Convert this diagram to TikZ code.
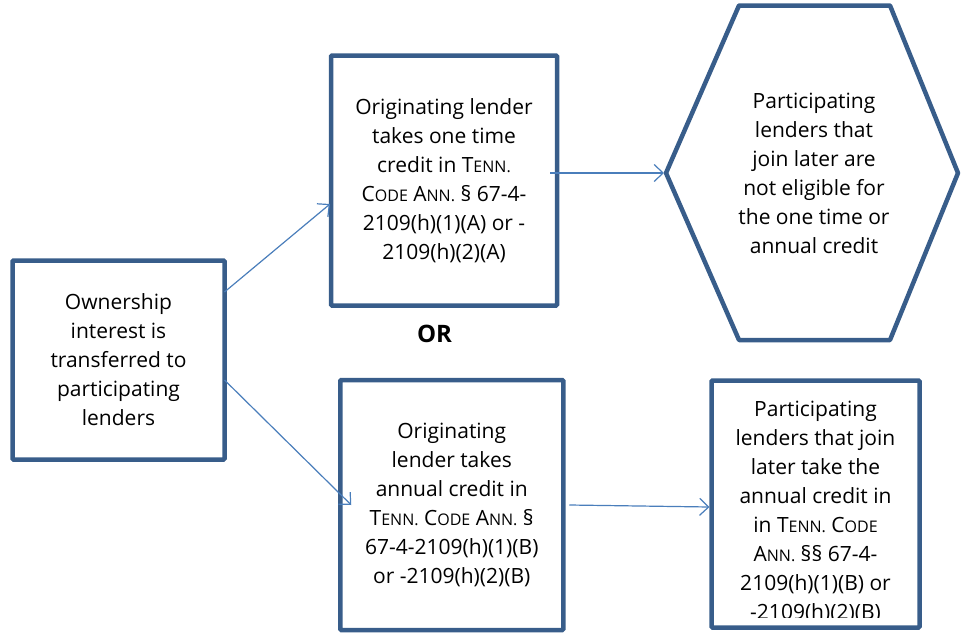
\documentclass[tikz,border=0pt]{standalone}
\usepackage{fontspec}
\setmainfont{Open Sans}
\usetikzlibrary{arrows.meta}
\definecolor{boxblue}{HTML}{385D8A}
\definecolor{arrowblue}{HTML}{4A7EBB}
\newcommand{\tsc}[1]{{\fontsize{16}{16}\selectfont #1}}

\begin{document}
\begin{tikzpicture}[x=1pt, y=-1pt,
    box/.style={draw=boxblue, line width=4.5pt, rounded corners=1pt, outer sep=0pt, inner sep=0pt, align=center, font=\fontsize{21}{29}\selectfont},
    txt/.style={align=center, inner sep=0pt, font=\fontsize{21}{29}\selectfont},
    link/.style={draw=arrowblue, line width=1.2pt, -{Straight Barb[length=9pt,width=17pt]}}]
	\useasboundingbox (0,0) rectangle (961,632);
	% boxes
	\node[box, minimum width=212pt, minimum height=199pt] (own) at (118.5,360)
		{Ownership\\interest is\\transferred to\\participating\\lenders};
	\node[box, minimum width=226pt, minimum height=250pt] (once) at (444,180.5)
		{Originating lender\\takes one time\\credit in T\tsc{ENN.}\\C\tsc{ODE} A\tsc{NN.} \S{} 67-4-\\2109(h)(1)(A) or -\\2109(h)(2)(A)};
	\node[box, minimum width=223pt, minimum height=250pt] (annual) at (451.75,505)
		{Originating\\lender takes\\annual credit in\\T\tsc{ENN.} C\tsc{ODE} A\tsc{NN.} \S\\67-4-2109(h)(1)(B)\\or -2109(h)(2)(B)};
	\node[box, minimum width=208pt, minimum height=247pt] (later) at (815.5,504) {};
	\begin{scope}
		\clip (713,383) rectangle (918,617);
		\node[txt] (latertxt) at (815.5,512)
			{Participating\\lenders that join\\later take the\\annual credit in\\in T\tsc{ENN.} C\tsc{ODE}\\A\tsc{NN.} \S\S{} 67-4-\\2109(h)(1)(B) or\\-2109(h)(2)(B)};
	\end{scope}
	% hexagon
	\coordinate (hexW) at (666,173);
	\coordinate (hexE) at (958,173);
	\draw[draw=boxblue, line width=4.5pt, line join=round]
		(hexW) -- (739,5.5) -- (890,5.5) -- (hexE) -- (890,340) -- (739,340) -- cycle;
	\node[txt] (nocredit) at (814,173)
		{Participating\\lenders that\\join later are\\not eligible for\\the one time or\\annual credit};
	\node[font=\fontsize{24}{28}\selectfont\bfseries] (or) at (434.5,334) {OR};
	% arrows
	\draw[link] ([yshift=68pt]own.east) -- ([xshift=-1pt,yshift=-23.5pt]once.west);
	\draw[link] ([yshift=-20pt]own.east) -- ([xshift=11pt]annual.west);
	\draw[link] ([xshift=-7pt,yshift=7.5pt]once.east) -- ([xshift=-2pt]hexW);
	\draw[link] ([xshift=6pt]annual.east) -- ([xshift=-2pt,yshift=-3pt]later.west);
\end{tikzpicture}
\end{document}
